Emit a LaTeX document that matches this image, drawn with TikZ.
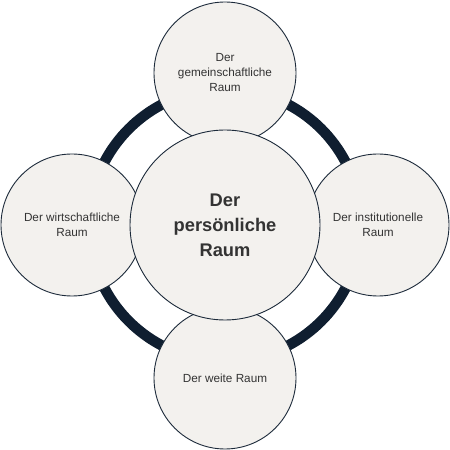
\documentclass[tikz,border=0pt]{standalone}
\usepackage{fontspec}
\setmainfont{Liberation Sans}
\definecolor{ringc}{HTML}{0F1E30}
\definecolor{edgec}{HTML}{1C2A3A}
\definecolor{fillc}{HTML}{F3F1EE}
\definecolor{textc}{HTML}{333333}
\tikzset{
  outer/.style={circle, draw=edgec, line width=0.9pt, fill=fillc, minimum size=142pt, inner sep=0pt,
    align=center, text=textc, font=\fontsize{11.75}{15}\selectfont},
  inner/.style={circle, draw=edgec, line width=0.9pt, fill=fillc, minimum size=190pt, inner sep=0pt,
    align=center, text=textc, font=\bfseries\fontsize{18.3}{25}\selectfont},
  ringline/.style={draw=ringc, line width=10.5pt}
}
\begin{document}
\begin{tikzpicture}[x=1pt,y=1pt]
\useasboundingbox (0,0) rectangle (450,450);
\coordinate (c) at (225,225);
\draw[ringline] (c) circle[radius=136];
\node[outer] (top) at (225,377) {Der\\gemeinschaftliche\\Raum};
\node[outer] (left) at (72,225) {Der wirtschaftliche\\Raum};
\node[outer] (right) at (378,225) {Der institutionelle\\Raum};
\node[outer] (bottom) at (225,72) {Der weite Raum};
\node[inner] (center) at (c) {Der\\persönliche\\Raum};
\end{tikzpicture}
\end{document}
